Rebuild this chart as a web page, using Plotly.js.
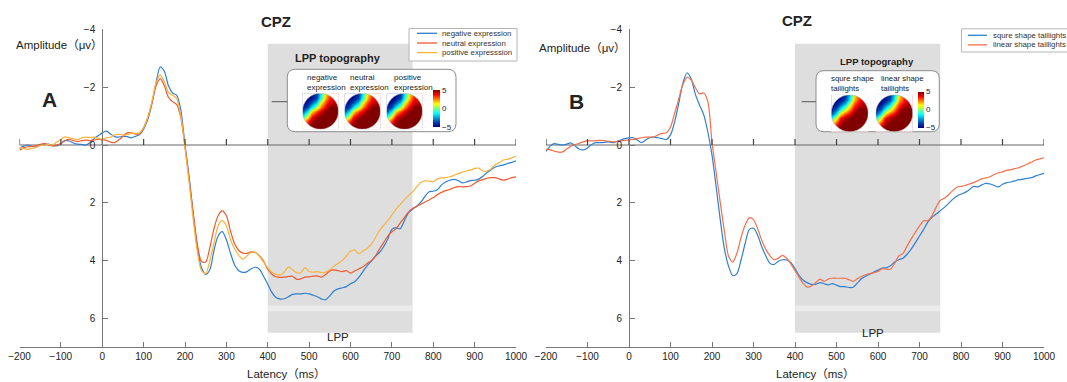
<!DOCTYPE html>
<html><head><meta charset="utf-8">
<script src="https://cdn.plot.ly/plotly-3.0.1.min.js"></script>
<style>html,body{margin:0;padding:0;background:#fff}</style>
</head><body><div id="chart" style="width:1067px;height:382px"></div>
<script>
// ---------------- DATA ----------------
const latency = [-200,-190,-180,-170,-160,-150,-140,-130,-120,-110,
-100,-90,-80,-70,-60,-50,-40,-30,-20,-10,
0,10,20,30,40,50,60,70,80,90,
100,110,120,130,140,150,160,170,180,190,
200,210,220,230,240,250,260,270,280,290,
300,310,320,330,340,350,360,370,380,390,
400,410,420,430,440,450,460,470,480,490,
500,510,520,530,540,550,560,570,580,590,
600,610,620,630,640,650,660,670,680,690,
700,710,720,730,740,750,760,770,780,790,
800,810,820,830,840,850,860,870,880,890,
900,910,920,930,940,950,960,970,980,990,1000];

const negativeA = [0.12,0.04,0.0,0.05,0.07,0.0,-0.02,-0.03,0.02,0.03,
-0.05,-0.16,-0.14,-0.07,-0.03,-0.02,0.0,-0.08,-0.22,-0.32,
-0.42,-0.48,-0.38,-0.29,-0.27,-0.30,-0.29,-0.25,-0.30,-0.36,
-0.55,-0.88,-1.42,-2.15,-2.70,-2.55,-2.05,-1.80,-1.72,-1.2,
0.0,1.1,2.4,3.55,4.25,4.48,4.32,3.65,3.15,3.0,
3.28,3.75,4.15,4.35,4.41,4.38,4.28,4.23,4.3,4.55,
4.82,5.1,5.28,5.33,5.32,5.25,5.17,5.15,5.15,5.13,
5.15,5.2,5.25,5.33,5.35,5.22,5.05,4.98,4.94,4.9,
4.8,4.73,4.58,4.38,4.18,4.03,3.85,3.72,3.52,3.25,
2.92,2.86,2.9,2.62,2.35,2.22,2.12,1.98,1.78,1.62,
1.6,1.55,1.38,1.28,1.22,1.19,1.23,1.31,1.28,1.23,
1.22,1.18,1.08,0.95,0.85,0.76,0.72,0.69,0.64,0.6,0.55];

const neutralA = [0.18,0.1,0.06,0.05,0.02,-0.02,-0.06,0.0,0.03,0.0,
-0.05,-0.15,-0.2,-0.15,-0.12,-0.15,-0.17,-0.15,-0.17,-0.2,
-0.18,-0.16,-0.1,-0.08,-0.18,-0.3,-0.42,-0.42,-0.38,-0.38,
-0.6,-0.95,-1.45,-2.05,-2.3,-2.05,-1.65,-1.5,-1.4,-0.95,
0.05,1.2,2.37,3.45,4.03,4.05,3.55,2.9,2.45,2.28,
2.45,2.98,3.42,3.65,3.74,3.75,3.7,3.72,3.83,4.02,
4.3,4.47,4.56,4.58,4.57,4.55,4.54,4.65,4.63,4.57,
4.56,4.54,4.53,4.57,4.48,4.36,4.32,4.35,4.38,4.35,
4.43,4.36,4.29,4.22,4.1,4.0,3.85,3.6,3.38,3.15,
3.0,2.9,2.7,2.52,2.32,2.2,2.13,2.05,1.97,1.9,
1.82,1.72,1.64,1.58,1.54,1.48,1.44,1.45,1.44,1.42,
1.32,1.24,1.2,1.15,1.13,1.13,1.18,1.22,1.18,1.13,1.1];

const positiveA = [0.08,0.12,0.15,0.12,0.08,0.02,0.0,-0.02,0.0,-0.1,
-0.2,-0.28,-0.25,-0.22,-0.18,-0.25,-0.27,-0.26,-0.27,-0.23,
-0.2,-0.25,-0.27,-0.35,-0.37,-0.34,-0.36,-0.4,-0.4,-0.42,
-0.6,-0.95,-1.5,-2.15,-2.42,-2.2,-1.82,-1.72,-1.6,-1.0,
0.1,1.3,2.6,3.7,4.35,4.45,4.0,3.4,2.8,2.62,
2.8,3.28,3.6,3.82,3.95,3.83,3.71,3.72,3.85,4.05,
4.25,4.4,4.47,4.5,4.4,4.22,4.32,4.42,4.42,4.24,
4.38,4.4,4.38,4.42,4.4,4.32,4.2,4.1,4.0,3.84,
3.68,3.63,3.76,3.67,3.58,3.44,3.22,2.96,2.78,2.62,
2.42,2.22,2.06,1.9,1.75,1.62,1.45,1.3,1.24,1.25,
1.27,1.18,1.14,1.13,1.1,1.05,0.99,0.94,0.9,0.87,
0.81,0.8,0.9,0.9,0.82,0.68,0.6,0.52,0.49,0.44,0.39];

const squreB = [0.22,0.04,-0.05,-0.02,0.0,-0.03,-0.07,0.03,0.14,0.17,
0.1,-0.02,-0.08,-0.08,-0.09,-0.11,-0.08,-0.12,-0.17,-0.22,
-0.25,-0.25,-0.17,-0.08,-0.17,-0.25,-0.27,-0.25,-0.22,-0.19,
-0.35,-0.8,-1.45,-2.15,-2.5,-2.28,-1.75,-1.38,-1.05,-0.45,
0.35,1.45,2.6,3.6,4.2,4.52,4.45,3.98,3.4,2.92,
2.88,3.12,3.52,3.85,4.1,4.13,4.02,3.97,3.98,4.06,
4.28,4.52,4.68,4.77,4.82,4.82,4.76,4.8,4.84,4.8,
4.85,4.9,4.9,4.93,4.92,4.78,4.63,4.54,4.47,4.4,
4.33,4.26,4.25,4.18,4.05,3.97,3.92,3.78,3.6,3.38,
3.15,2.92,2.67,2.5,2.39,2.28,2.16,2.02,1.88,1.77,
1.7,1.64,1.55,1.43,1.45,1.38,1.33,1.35,1.4,1.45,
1.36,1.3,1.28,1.24,1.2,1.18,1.15,1.13,1.07,1.02,0.98];

const linearB = [0.15,0.17,0.21,0.25,0.24,0.14,0.04,-0.01,-0.06,-0.11,
-0.14,-0.14,-0.15,-0.16,-0.15,-0.13,-0.11,-0.12,-0.14,-0.16,
-0.18,-0.19,-0.22,-0.25,-0.27,-0.27,-0.28,-0.35,-0.4,-0.42,
-0.62,-1.1,-1.6,-2.1,-2.34,-2.25,-1.98,-1.77,-1.8,-1.5,
-0.1,0.95,2.0,3.0,3.85,4.05,3.75,3.2,2.77,2.52,
2.58,2.9,3.3,3.62,3.84,3.97,3.92,3.82,3.92,4.12,
4.35,4.58,4.8,4.92,4.88,4.76,4.64,4.72,4.64,4.61,
4.61,4.61,4.61,4.66,4.72,4.63,4.55,4.49,4.45,4.42,
4.38,4.28,4.3,4.3,4.1,3.84,3.76,3.5,3.25,3.02,
2.8,2.62,2.62,2.45,2.15,1.92,1.84,1.72,1.58,1.46,
1.43,1.4,1.35,1.3,1.24,1.17,1.14,1.1,1.02,0.96,
0.93,0.88,0.85,0.82,0.78,0.72,0.66,0.59,0.52,0.48,0.44];

const xTicks = [-200,-100,0,100,200,300,400,500,600,700,800,900,1000];
const yTicks = [-4,-2,0,2,4,6];
const legendLabelsA = ['negative expression','neutral expression','positive expresssion'];
const legendLabelsB = ['squre shape taillights','linear shape taillights'];
const topoLabelsA = ['negative<br>expression','neutral<br>expression','positive<br>expression'];
const topoLabelsB = ['squre shape<br>taillights','linear shape<br>taillights'];
const lppWindow = [400, 750];
const cbTickVals = [-5, 0, 5];
const cbTickText = ['\u22125', '0', '5'];
// topography grid (rows bottom -> top)
const topoU = [-1,-0.75,-0.5,-0.25,0,0.25,0.5,0.75,1];
const topoW = [-1,-0.75,-0.5,-0.25,0,0.25,0.5,0.75,1];
const topoGrid = [
 [3.5,4.5,5,5,5,5,5,5,5],
 [2.5,4,5,5,5,5,5,5,5],
 [1,3,4.5,5,5,5,5,5,5],
 [-1.5,1,3.5,4.5,5,5,5,5,5],
 [-3.5,-1.5,1.5,3,4,5,5,5,5],
 [-4.5,-3.5,-1.5,0.5,2.5,4,5,5,5],
 [-5,-4.5,-3.5,-2,1,3,4,4.5,4.5],
 [-5,-5,-4.5,-3.5,-1,2,3.5,4,4],
 [-5,-5,-5,-4,-1.5,1.5,3,3.5,3.5]
];

// ---------------- LAYOUT GEOMETRY ----------------
const W = 1067, H = 382;
const FONT = 'Liberation Sans, Arial, Noto Sans CJK SC, sans-serif';
const TXT = '#222';
const AX = '#777';
const colA = ['#2f7fd0', '#f05a2c', '#fab23a'];
const colB = ['#2f7fd0', '#f4704a'];
const yTopPx = 29.4, yBotPx = 347.3;
const yDom = [1 - yBotPx / H, 1 - yTopPx / H];
const panels = [
  {x0: 19.5, x1: 516},
  {x0: 546, x1: 1044}
];
const px = p => p / W, py = p => 1 - p / H;
const xRange = [-200, 1000], yRange = [7, -4];
const pxPerV = (yBotPx - yTopPx) / (yRange[0] - yRange[1]);

function dom(p){ return [px(p.x0), px(p.x1)]; }
function zeroMsPos(p){ const d = dom(p); return d[0] + (0 - xRange[0]) / (xRange[1]-xRange[0]) * (d[1]-d[0]); }
function toData(p, xp, yp){
  const t = xRange[0] + (xp - p.x0) / (p.x1 - p.x0) * (xRange[1]-xRange[0]);
  const v = yRange[1] + (yp - yTopPx) / pxPerV;
  return [t, v];
}
function roundRectPath(p, x0, y0, x1, y1, r){
  const P = (a,b) => toData(p,a,b).map(n=>n.toFixed(4)).join(',');
  return 'M' + P(x0+r,y0) + ' L' + P(x1-r,y0) + ' Q' + P(x1,y0) + ' ' + P(x1,y0+r) +
    ' L' + P(x1,y1-r) + ' Q' + P(x1,y1) + ' ' + P(x1-r,y1) +
    ' L' + P(x0+r,y1) + ' Q' + P(x0,y1) + ' ' + P(x0,y1-r) +
    ' L' + P(x0,y0+r) + ' Q' + P(x0,y0) + ' ' + P(x0+r,y0) + ' Z';
}

const axisCommon = {showgrid:false, zeroline:false, showline:true, linecolor:AX, linewidth:1,
  tickcolor:AX, tickwidth:1, fixedrange:true, tickfont:{family:FONT, size:10, color:TXT}};

const layout = {
  width: W, height: H, margin:{l:0,r:0,t:0,b:0, autoexpand:false},
  paper_bgcolor:'#fff', plot_bgcolor:'rgba(0,0,0,0)', showlegend:false,
  font:{family:FONT, color:TXT},
  xaxis: Object.assign({}, axisCommon, {domain:dom(panels[0]), range:xRange, anchor:'y', tickvals:xTicks, ticks:'inside', ticklen:5}),
  yaxis: Object.assign({}, axisCommon, {domain:yDom, range:yRange, anchor:'free', position:zeroMsPos(panels[0]), tickvals:yTicks, ticks:'inside', ticklen:5, ticklabelstandoff:5}),
  xaxis2: Object.assign({}, axisCommon, {domain:dom(panels[1]), range:xRange, anchor:'y2', tickvals:xTicks, ticks:'inside', ticklen:5}),
  yaxis2: Object.assign({}, axisCommon, {domain:yDom, range:yRange, anchor:'free', position:zeroMsPos(panels[1]), tickvals:yTicks, ticks:'inside', ticklen:5, ticklabelstandoff:5}),
  shapes: [], annotations: []
};

const traces = [];
const seriesA = [negativeA, neutralA, positiveA];
seriesA.forEach((s,i)=>traces.push({type:'scatter', mode:'lines', x:latency, y:s, xaxis:'x', yaxis:'y',
  line:{color:colA[i], width:1.2, shape:'spline', smoothing:0.8}, hoverinfo:'skip', name:legendLabelsA[i]}));
const seriesB = [squreB, linearB];
seriesB.forEach((s,i)=>traces.push({type:'scatter', mode:'lines', x:latency, y:s, xaxis:'x2', yaxis:'y2',
  line:{color:colB[i], width:1.2, shape:'spline', smoothing:0.8}, hoverinfo:'skip', name:legendLabelsB[i]}));

// zero baseline tick marks (pointing up): short vertical segments from 0 to tickTopV, as one line trace per panel
const zeroTickLen = 6;
const tickTopV = -zeroTickLen / pxPerV;
const tickX = [], tickY = [];
xTicks.forEach(t=>{ tickX.push(t, t, null); tickY.push(0, tickTopV, null); });
[['x','y'],['x2','y2']].forEach(ax=>traces.push({type:'scatter', mode:'lines', x:tickX, y:tickY,
  xaxis:ax[0], yaxis:ax[1], line:{color:'#444', width:1.2}, connectgaps:false, hoverinfo:'skip'}));

const insets = [
  {p:panels[0], xr:'x', yr:'y', box:[287.3,69.3,456,131.7], conn:[271.7,287.3,101.7]},
  {p:panels[1], xr:'x2', yr:'y2', box:[816,70.7,939.3,131.7], conn:[801.7,816,101.7]}
];
insets.forEach(o=>{
  layout.shapes.push({type:'rect', xref:o.xr, yref:o.yr, x0:lppWindow[0], x1:lppWindow[1], y0:-3.5, y1:6.5,
    fillcolor:'#dedede', line:{width:0}, layer:'below'});
  layout.shapes.push({type:'rect', xref:o.xr, yref:o.yr, x0:lppWindow[0], x1:lppWindow[1], y0:5.55, y1:5.75,
    fillcolor:'#ececec', line:{width:0}, layer:'below'});
  layout.shapes.push({type:'path', xref:o.xr, yref:o.yr, path:roundRectPath(o.p, o.box[0],o.box[1],o.box[2],o.box[3],8),
    fillcolor:'#fff', line:{color:'#8c8c8c', width:1}, layer:'below'});
  layout.shapes.push({type:'line', xref:o.xr, yref:o.yr, x0:xRange[0], x1:xRange[1], y0:0, y1:0,
    line:{color:'#666', width:1}, layer:'below'});
  layout.shapes.push({type:'line', xref:'paper', yref:'paper', x0:px(o.conn[0]), x1:px(o.conn[1]), y0:py(o.conn[2]), y1:py(o.conn[2]),
    line:{color:'#555', width:1}, layer:'above'});
});

const maps = [
  {cx:320.5, cy:111.3, r:18, cb:null},
  {cx:362.5, cy:111.3, r:18, cb:null},
  {cx:404.5, cy:111.3, r:18, cb:{x:433.3, y:108.3, len:36.7, th:6.5}},
  {cx:849.7, cy:113.3, r:18.5, cb:null},
  {cx:894.3, cy:113.3, r:18.5, cb:{x:917.7, y:109.5, len:35.6, th:5.8}}
];
const k = 0.5523;
const circ = 'M1,0 C1,'+k+' '+k+',1 0,1 C-'+k+',1 -1,'+k+' -1,0 C-1,-'+k+' -'+k+',-1 0,-1 C'+k+',-1 1,-'+k+' 1,0 Z';
const maskPath = 'M-1.16,-1.16 L1.16,-1.16 L1.16,1.16 L-1.16,1.16 Z ' + circ;
maps.forEach((m,i)=>{
  const n = i + 5;
  layout['xaxis'+n] = {domain:[px(m.cx-m.r), px(m.cx+m.r)], range:[-1,1], visible:false, anchor:'y'+n, fixedrange:true};
  layout['yaxis'+n] = {domain:[py(m.cy+m.r), py(m.cy-m.r)], range:[-1,1], visible:false, anchor:'x'+n, fixedrange:true};
  const tr = {type:'heatmap', x:topoU, y:topoW, z:topoGrid, xaxis:'x'+n, yaxis:'y'+n,
    colorscale:'Jet', zmin:-5, zmax:5, zsmooth:'best', hoverinfo:'skip', showscale:!!m.cb};
  if(m.cb){
    tr.colorbar = {x:px(m.cb.x), xanchor:'left', y:py(m.cb.y), yanchor:'middle', len:m.cb.len, lenmode:'pixels',
      thickness:m.cb.th, thicknessmode:'pixels', outlinewidth:0, xpad:0, ypad:0,
      tickvals:cbTickVals, ticktext:cbTickText, ticks:'', tickfont:{family:FONT, size:8, color:TXT}};
  }
  traces.push(tr);
  layout.shapes.push({type:'path', xref:'x'+n, yref:'y'+n, path:maskPath, fillcolor:'#fff', fillrule:'evenodd', line:{width:0}, layer:'above'});
  layout.shapes.push({type:'path', xref:'x'+n, yref:'y'+n, path:circ, fillcolor:'rgba(0,0,0,0)', line:{color:'#aaa', width:0.6}, layer:'above'});
});

function addLegend(labels, colors, box, lineX, ys, textX){
  layout.shapes.push({type:'rect', xref:'paper', yref:'paper', x0:px(box[0]), x1:px(box[2]), y0:py(box[3]), y1:py(box[1]),
    fillcolor:'#fff', line:{color:'#b5b5b5', width:1}, layer:'above'});
  labels.forEach((lab,i)=>{
    layout.shapes.push({type:'line', xref:'paper', yref:'paper', x0:px(lineX[0]), x1:px(lineX[1]), y0:py(ys[i]), y1:py(ys[i]),
      line:{color:colors[i], width:1.3}, layer:'above'});
    layout.annotations.push({xref:'paper', yref:'paper', x:px(textX), y:py(ys[i]), xanchor:'left', yanchor:'middle',
      text:lab, showarrow:false, font:{family:FONT, size:7.8, color:'#333'}});
  });
}
addLegend(legendLabelsA, colA, [409,28.5,517,61], [417,437], [33.3,43,52.6], 440);
addLegend(legendLabelsB, colB, [961.5,28.8,1080,52], [968,987], [35.3,44.9], 990.6);

function ann(text, x, y, size, opts){
  layout.annotations.push(Object.assign({xref:'paper', yref:'paper', x:px(x), y:py(y), xanchor:'center', yanchor:'middle',
    text:text, showarrow:false, font:{family:FONT, size:size, color:TXT}}, opts||{}));
}
ann('<b>CPZ</b>', 275.5, 21, 15);
ann('<b>CPZ</b>', 797, 20.5, 15);
ann('<b>A</b>', 49, 100, 21);
ann('<b>B</b>', 576, 101, 21);
ann('Amplitude\uff08\u03bcv\uff09', 59.5, 45, 11.5);
ann('Amplitude\uff08\u03bcv\uff09', 583, 48.5, 11.5);
ann('Latency\uff08ms\uff09', 286.5, 374, 11.5);
ann('Latency\uff08ms\uff09', 815, 374, 11.5);
ann('<b>LPP topography</b>', 338.3, 58.3, 11);
ann('<b>LPP topography</b>', 877.3, 61.7, 9.5);
ann('LPP', 338.3, 337, 11.5);
ann('LPP', 873, 333, 11.5);
[305, 348.3, 391.7].forEach((x,i)=>ann(topoLabelsA[i], x, 82.2, 8, {xanchor:'left', align:'left'}));
[829, 879.3].forEach((x,i)=>ann(topoLabelsB[i], x, 83.8, 7.8, {xanchor:'left', align:'left'}));

Plotly.newPlot('chart', traces, layout, {staticPlot:true, displayModeBar:false});
</script>
</body></html>
